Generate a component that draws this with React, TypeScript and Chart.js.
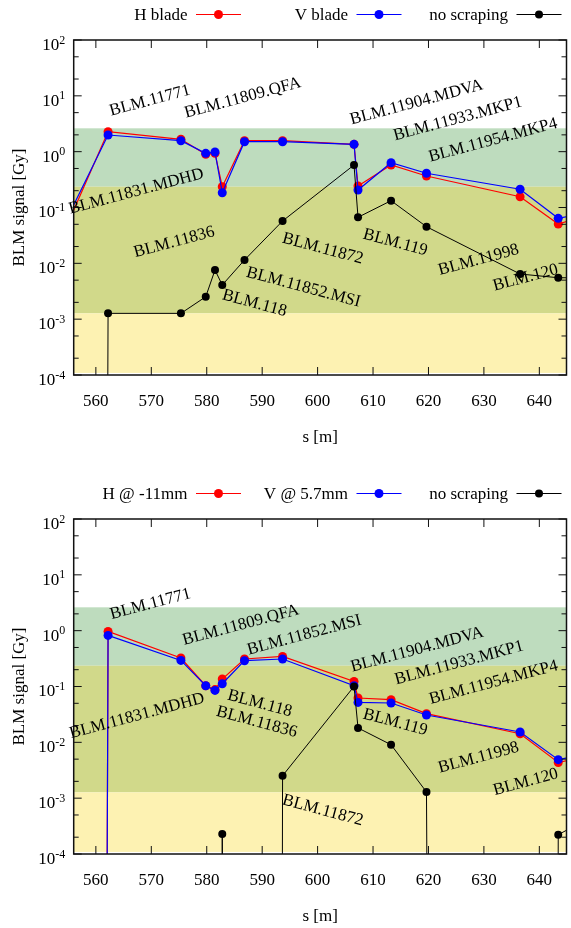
import React, { useEffect, useRef } from "react";
import { Chart, registerables } from "chart.js";

Chart.register(...registerables);

// ---------------------------------------------------------------------------
// Data
// ---------------------------------------------------------------------------

// A zero reading cannot sit on a log axis; it is stored as a vanishing dose so
// the line drops straight down to the lower border, as gnuplot draws it.
const ZERO = 1e-300;

// Longitudinal position of each BLM [m] (first and last lie just outside the view)
const blmS = [550.5, 562.2, 575.34, 579.82, 581.49, 582.8, 586.81, 593.68, 606.57, 607.29, 613.25, 619.64, 636.53, 643.41, 650.2];

// Upper panel: scraping with the H and V blades [Gy]
const bladeH = [0.0051, 2.28, 1.665, 0.897, 0.934, 0.236, 1.572, 1.572, 1.354, 0.243, 0.577, 0.367, 0.156, 0.0506, 0.0796];
const bladeV = [0.0086, 1.988, 1.572, 0.934, 0.986, 0.184, 1.508, 1.508, 1.354, 0.206, 0.634, 0.41, 0.212, 0.064, 0.088];
const refTop = [ZERO, 0.00127, 0.00127, 0.00252, 0.00759, 0.00409, 0.01148, 0.0573, 0.577, 0.0668, 0.1324, 0.0453, 0.00644, 0.00552, 0.0055];

// Lower panel: H @ -11mm, V @ 5.7mm [Gy]
const offsetH = [ZERO, 0.97, 0.3236, 0.1032, 0.088, 0.136, 0.311, 0.346, 0.1233, 0.0622, 0.058, 0.0326, 0.01427, 0.00436, 0.00608];
const offsetV = [ZERO, 0.822, 0.293, 0.1032, 0.0851, 0.112, 0.2897, 0.311, 0.1032, 0.0519, 0.0506, 0.0309, 0.0153, 0.00489, 0.00686];
const refBottom = [ZERO, ZERO, ZERO, ZERO, ZERO, 2.28e-4, ZERO, 2.52e-3, 0.1004, 0.0181, 0.00906, 0.00129, ZERO, 2.22e-4, 5.06e-4];

// Series names
const topNames = ["H blade", "V blade", "no scraping"];
const bottomNames = ["H @ -11mm", "V @ 5.7mm", "no scraping"];

// Axis ranges and ticks
const S_MIN = 556.0;
const S_MAX = 644.9;
const DOSE_MIN = 1e-4;
const DOSE_MAX = 1e2;
const sTicks = [560, 570, 580, 590, 600, 610, 620, 630, 640];
const decadeExponents = [-4, -3, -2, -1, 0, 1, 2];

// Dose bands behind the data (upper edges, last entry is the floor)
const bandEdges = [2.62, 0.236, 0.00127, 1.09e-4];
const bandColors = ["rgb(190,220,190)", "rgb(209,217,138)", "rgb(253,242,178)"];

// Monitor names, anchored at (s, dose), with their rotation in degrees
const tagNames = [
  "BLM.11771", "BLM.11809.QFA", "BLM.11904.MDVA", "BLM.11933.MKP1", "BLM.11954.MKP4",
  "BLM.11831.MDHD", "BLM.11836", "BLM.11852.MSI", "BLM.118", "BLM.11872",
  "BLM.119", "BLM.11998", "BLM.120",
];
const topTagS = [569.76, 586.5, 617.85, 625.28, 631.64, 567.28, 574.14, 597.43, 588.6, 600.92, 614.0, 629.04, 637.52];
const topTagDose = [8.18, 9.14, 7.6, 3.85, 1.598, 0.1934, 0.02379, 0.00372, 0.001923, 0.01828, 0.0236, 0.01147, 0.0055];
const topTagAngle = [15, 15, 15, 15, 15, 15, 15, -15, -15, -15, -15, 15, 15];

const bottomTagS = [569.85, 586.15, 617.96, 625.55, 631.73, 567.43, 589.01, 597.6, 589.55, 600.92, 614.0, 629.04, 637.55];
const bottomTagDose = [2.98, 1.253, 0.456, 0.2636, 0.1175, 0.0296, 0.0231, 0.83, 0.0496, 6.01e-4, 0.02275, 0.0053, 0.00193];
const bottomTagAngle = [15, 15, 15, 15, 15, 15, -15, 15, -15, -15, -15, 15, 15];

// ---------------------------------------------------------------------------
// Drawing
// ---------------------------------------------------------------------------

const SERIF = '"Liberation Serif", "Times New Roman", serif';
const RED = "#ff0000";
const BLUE = "#0000ff";
const BLACK = "#000000";

type Tag = { text: string; s: number; dose: number; angle: number };

function decorPlugin(names: string[], tags: Tag[]) {
  return {
    id: "panelDecor",
    beforeDatasetsDraw(chart: any) {
      const { ctx, chartArea: a } = chart;
      const y = chart.scales.y;
      ctx.save();
      ctx.beginPath();
      ctx.rect(a.left, a.top, a.right - a.left, a.bottom - a.top);
      ctx.clip();
      for (let i = 0; i < bandColors.length; i++) {
        const yt = y.getPixelForValue(bandEdges[i]);
        const yb = y.getPixelForValue(bandEdges[i + 1]);
        ctx.fillStyle = bandColors[i];
        ctx.fillRect(a.left, yt, a.right - a.left, yb - yt);
      }
      ctx.restore();
    },
    afterDatasetsDraw(chart: any) {
      const { ctx, chartArea: a } = chart;
      const x = chart.scales.x;
      const y = chart.scales.y;
      ctx.save();

      // border
      ctx.strokeStyle = "#111";
      ctx.lineWidth = 1.5;
      ctx.strokeRect(a.left, a.top, a.right - a.left, a.bottom - a.top);

      // ticks, pointing inward on all four sides
      ctx.lineWidth = 1;
      ctx.beginPath();
      for (const s of sTicks) {
        const px = x.getPixelForValue(s);
        ctx.moveTo(px, a.bottom);
        ctx.lineTo(px, a.bottom - 8);
        ctx.moveTo(px, a.top);
        ctx.lineTo(px, a.top + 8);
      }
      for (const e of decadeExponents) {
        const py = y.getPixelForValue(Math.pow(10, e));
        ctx.moveTo(a.left, py);
        ctx.lineTo(a.left + 8, py);
        ctx.moveTo(a.right, py);
        ctx.lineTo(a.right - 8, py);
        if (e < 2) {
          for (const m of [2, 5]) {
            const pm = y.getPixelForValue(m * Math.pow(10, e));
            ctx.moveTo(a.left, pm);
            ctx.lineTo(a.left + 5, pm);
            ctx.moveTo(a.right, pm);
            ctx.lineTo(a.right - 5, pm);
          }
        }
      }
      ctx.stroke();

      ctx.fillStyle = BLACK;

      // s tick labels
      ctx.font = `17px ${SERIF}`;
      ctx.textAlign = "center";
      ctx.textBaseline = "middle";
      for (const s of sTicks) {
        ctx.fillText(String(s), x.getPixelForValue(s), a.bottom + 27);
      }

      // dose tick labels: 10 with a raised exponent
      for (const e of decadeExponents) {
        const py = y.getPixelForValue(Math.pow(10, e));
        const exp = String(e);
        ctx.font = `12px ${SERIF}`;
        ctx.textAlign = "right";
        const ew = ctx.measureText(exp).width;
        const rightEdge = a.left - 8.5;
        ctx.fillText(exp, rightEdge, py + 0.5);
        ctx.font = `17px ${SERIF}`;
        ctx.fillText("10", rightEdge - ew, py + 5.5);
      }

      // axis titles
      ctx.font = `17px ${SERIF}`;
      ctx.textAlign = "center";
      ctx.fillText("s [m]", (a.left + a.right) / 2, a.bottom + 63);
      ctx.save();
      ctx.translate(20, (a.top + a.bottom) / 2);
      ctx.rotate(-Math.PI / 2);
      ctx.fillText("BLM signal [Gy]", 0, 0);
      ctx.restore();

      // monitor names
      for (const t of tags) {
        ctx.save();
        ctx.translate(x.getPixelForValue(t.s), y.getPixelForValue(t.dose));
        ctx.rotate((-t.angle * Math.PI) / 180);
        ctx.fillText(t.text, 0, 0);
        ctx.restore();
      }

      // key across the top: name, then a line sample with its marker
      const colors = [RED, BLUE, BLACK];
      const textRight = [187.5, 348, 508];
      const ky = a.top - 25.5;
      for (let i = 0; i < names.length; i++) {
        ctx.font = `17px ${SERIF}`;
        ctx.textAlign = "right";
        ctx.fillStyle = BLACK;
        ctx.fillText(names[i], textRight[i], ky + 1);
        const x0 = textRight[i] + 8.5;
        const x1 = x0 + 45;
        ctx.strokeStyle = colors[i];
        ctx.lineWidth = 1.2;
        ctx.beginPath();
        ctx.moveTo(x0, ky);
        ctx.lineTo(x1, ky);
        ctx.stroke();
        ctx.fillStyle = colors[i];
        ctx.beginPath();
        ctx.arc((x0 + x1) / 2, ky, i === 2 ? 4 : 4.5, 0, Math.PI * 2);
        ctx.fill();
      }

      ctx.restore();
    },
  };
}

function series(label: string, values: number[], color: string, order: number, width: number, radius: number) {
  return {
    label,
    data: blmS.map((s, i) => ({ x: s, y: values[i] })),
    borderColor: color,
    backgroundColor: color,
    pointBackgroundColor: color,
    borderWidth: width,
    pointRadius: radius,
    pointBorderWidth: 0,
    pointHoverRadius: radius,
    tension: 0,
    order,
  };
}

type PanelProps = {
  top: number;
  height: number;
  names: string[];
  h: number[];
  v: number[];
  ref0: number[];
  tags: Tag[];
};

function Panel({ top, height, names, h, v, ref0, tags }: PanelProps) {
  const canvasRef = useRef<HTMLCanvasElement>(null);

  useEffect(() => {
    const canvas = canvasRef.current;
    if (!canvas) return;
    const chart = new Chart(canvas, {
      type: "line",
      data: {
        datasets: [
          series(names[0], h, RED, 3, 1.2, 4.5),
          series(names[1], v, BLUE, 2, 1.2, 4.5),
          series(names[2], ref0, BLACK, 1, 1, 4),
        ],
      },
      options: {
        animation: false,
        responsive: false,
        devicePixelRatio: 1,
        events: [],
        layout: { padding: { left: 73.7, right: 1, top: 40, bottom: height - 375 } },
        plugins: {
          legend: { display: false },
          tooltip: { enabled: false },
        },
        scales: {
          x: { type: "linear", min: S_MIN, max: S_MAX, display: false },
          y: { type: "logarithmic", min: DOSE_MIN, max: DOSE_MAX, display: false },
        },
      },
      plugins: [decorPlugin(names, tags)],
    } as any);
    return () => chart.destroy();
  }, []);

  return (
    <canvas
      ref={canvasRef}
      width={571}
      height={height}
      style={{ position: "absolute", left: 0, top, width: 571, height, display: "block" }}
    />
  );
}

function buildTags(s: number[], dose: number[], angle: number[]): Tag[] {
  return tagNames.map((text, i) => ({ text, s: s[i], dose: dose[i], angle: angle[i] }));
}

export default function App() {
  const topTags = buildTags(topTagS, topTagDose, topTagAngle);
  const bottomTags = buildTags(bottomTagS, bottomTagDose, bottomTagAngle);
  return (
    <div style={{ position: "absolute", left: 0, top: 0, width: 571, height: 928, background: "#fff" }}>
      <Panel top={0} height={464} names={topNames} h={bladeH} v={bladeV} ref0={refTop} tags={topTags} />
      <Panel top={479} height={449} names={bottomNames} h={offsetH} v={offsetV} ref0={refBottom} tags={bottomTags} />
    </div>
  );
}
